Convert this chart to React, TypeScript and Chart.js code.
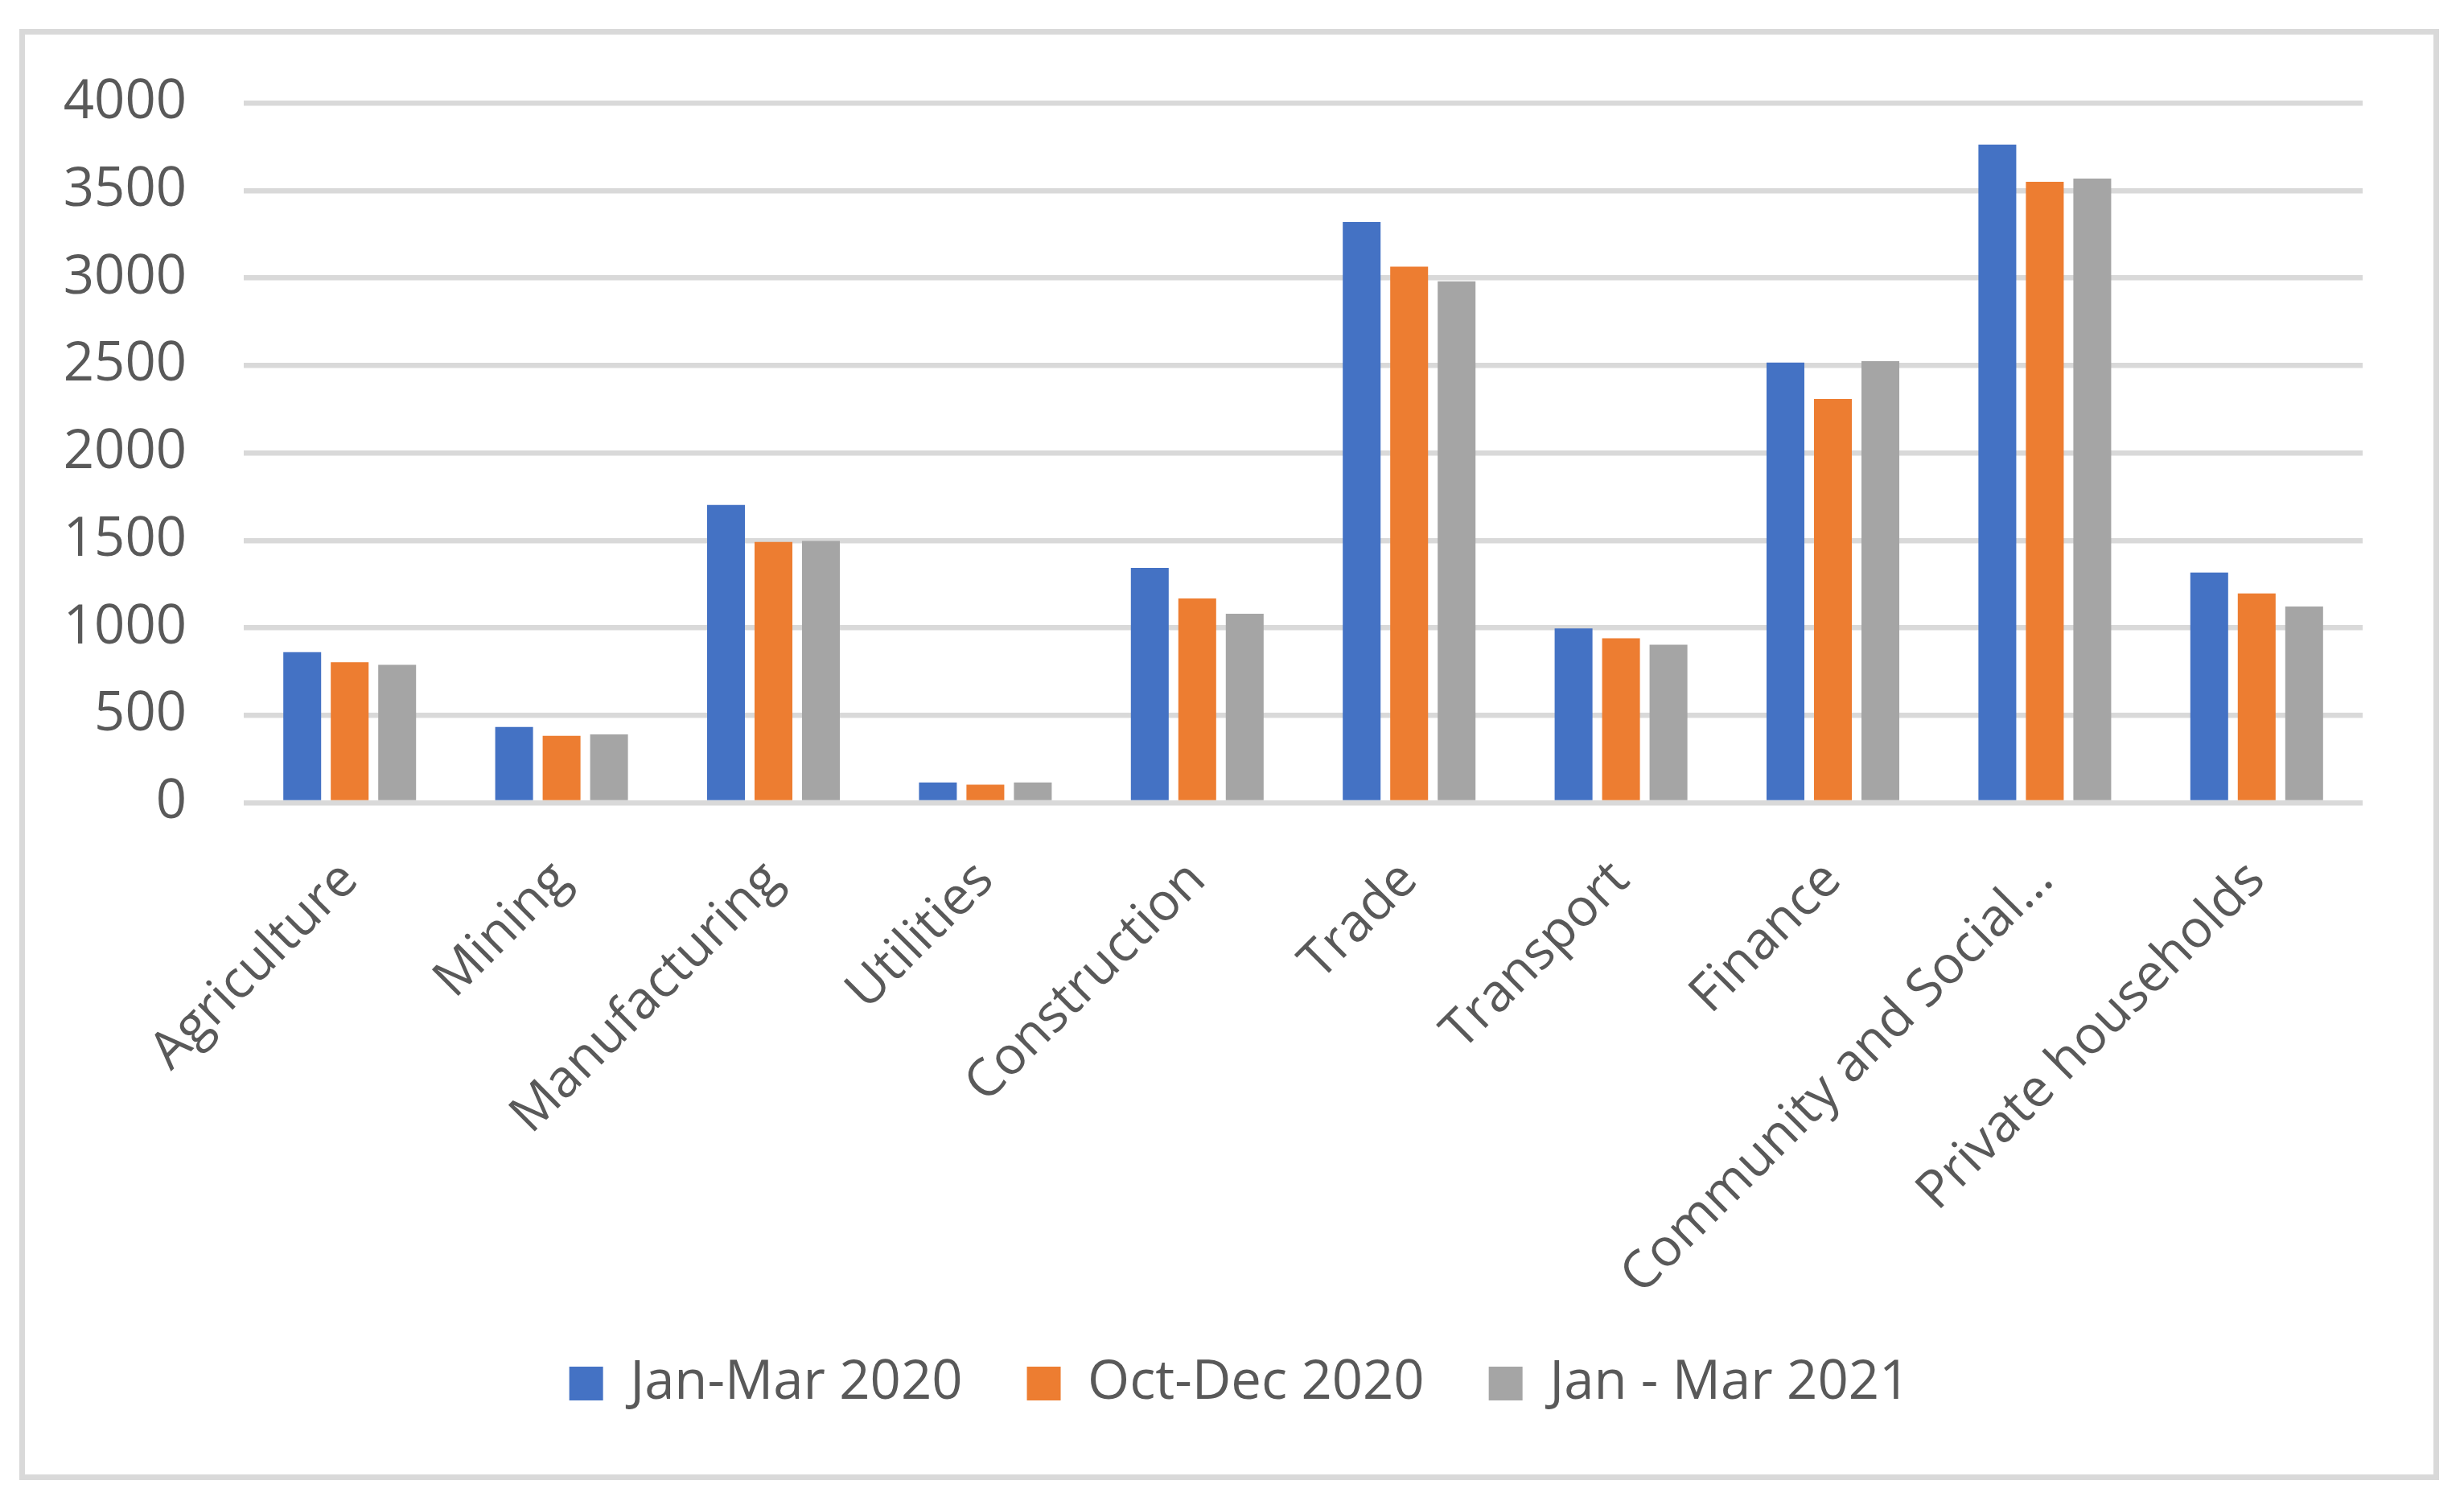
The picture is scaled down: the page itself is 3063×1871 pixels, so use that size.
import React, { useEffect, useRef } from "react";
import { Chart, registerables } from "chart.js";

Chart.register(...registerables);

const categories = [
  "Agriculture",
  "Mining",
  "Manufacturing",
  "Utilities",
  "Construction",
  "Trade",
  "Transport",
  "Finance",
  "Community and Social…",
  "Private households",
];

const seriesNames = ["Jan-Mar 2020", "Oct-Dec 2020", "Jan - Mar 2021"];

const janMar2020 = [861, 433, 1702, 116, 1343, 3320, 996, 2516, 3762, 1316];
const octDec2020 = [804, 383, 1491, 103, 1168, 3064, 940, 2308, 3549, 1197];
const janMar2021 = [788, 391, 1496, 116, 1080, 2981, 904, 2524, 3568, 1122];

const seriesColors = ["#4472C4", "#ED7D31", "#A5A5A5"];

const yMin = 0;
const yMax = 4000;
const yStep = 500;

const W = 3063;
const H = 1871;
const FONT = "'Open Sans', 'Noto Sans', sans-serif";
const TEXT_COLOR = "#595959";
const GRID_COLOR = "#d9d9d9";

export default function App() {
  const canvasRef = useRef<HTMLCanvasElement | null>(null);

  useEffect(() => {
    if (!canvasRef.current) return;
    const values = [janMar2020, octDec2020, janMar2021];
    const chart = new Chart(canvasRef.current, {
      type: "bar",
      data: {
        labels: categories,
        datasets: seriesNames.map((name, i) => ({
          label: name,
          data: values[i],
          backgroundColor: seriesColors[i],
          borderColor: seriesColors[i],
          borderWidth: 0,
          categoryPercentage: 0.672,
          barPercentage: 0.797,
        })),
      },
      options: {
        responsive: false,
        animation: false,
        devicePixelRatio: 1,
        layout: { padding: { left: 19, right: 0, top: 128, bottom: 107.5 } },
        plugins: {
          legend: {
            position: "bottom",
            labels: {
              font: { family: FONT, size: 67 },
              color: TEXT_COLOR,
              boxWidth: 42,
              boxHeight: 42,
              padding: 80,
            },
          },
          tooltip: { enabled: false },
        },
        scales: {
          x: {
            grid: { display: false, drawTicks: false },
            border: { display: false },
            ticks: {
              font: { family: FONT, size: 65 },
              color: TEXT_COLOR,
              minRotation: 45,
              maxRotation: 45,
              autoSkip: false,
              padding: 58,
            },
            afterFit: (s: any) => {
              s.height = 608.5;
              s._computeLabelArea = () => undefined;
            },
          },
          y: {
            min: yMin,
            max: yMax,
            grid: { color: GRID_COLOR, lineWidth: 6.5, drawTicks: false },
            border: { display: false },
            ticks: {
              stepSize: yStep,
              font: { family: FONT, size: 67 },
              color: TEXT_COLOR,
              padding: 71,
              callback: (v: any) => String(v),
            },
            afterFit: (s: any) => {
              s.width = 284;
            },
          },
          yRight: {
            position: "right",
            display: true,
            grid: { display: false, drawTicks: false },
            border: { display: false },
            ticks: { display: false },
            afterFit: (s: any) => {
              s.width = 126;
            },
          },
        },
      },
    });
    return () => chart.destroy();
  }, []);

  return (
    <div>
      <canvas
        ref={canvasRef}
        width={W}
        height={H}
        style={{ position: "absolute", left: 0, top: 0, width: W, height: H, display: "block" }}
      />
      <div
        style={{
          position: "absolute",
          left: 24,
          top: 36,
          width: 3008,
          height: 1804,
          border: "7px solid #d9d9d9",
          boxSizing: "border-box",
          pointerEvents: "none",
        }}
      />
    </div>
  );
}
